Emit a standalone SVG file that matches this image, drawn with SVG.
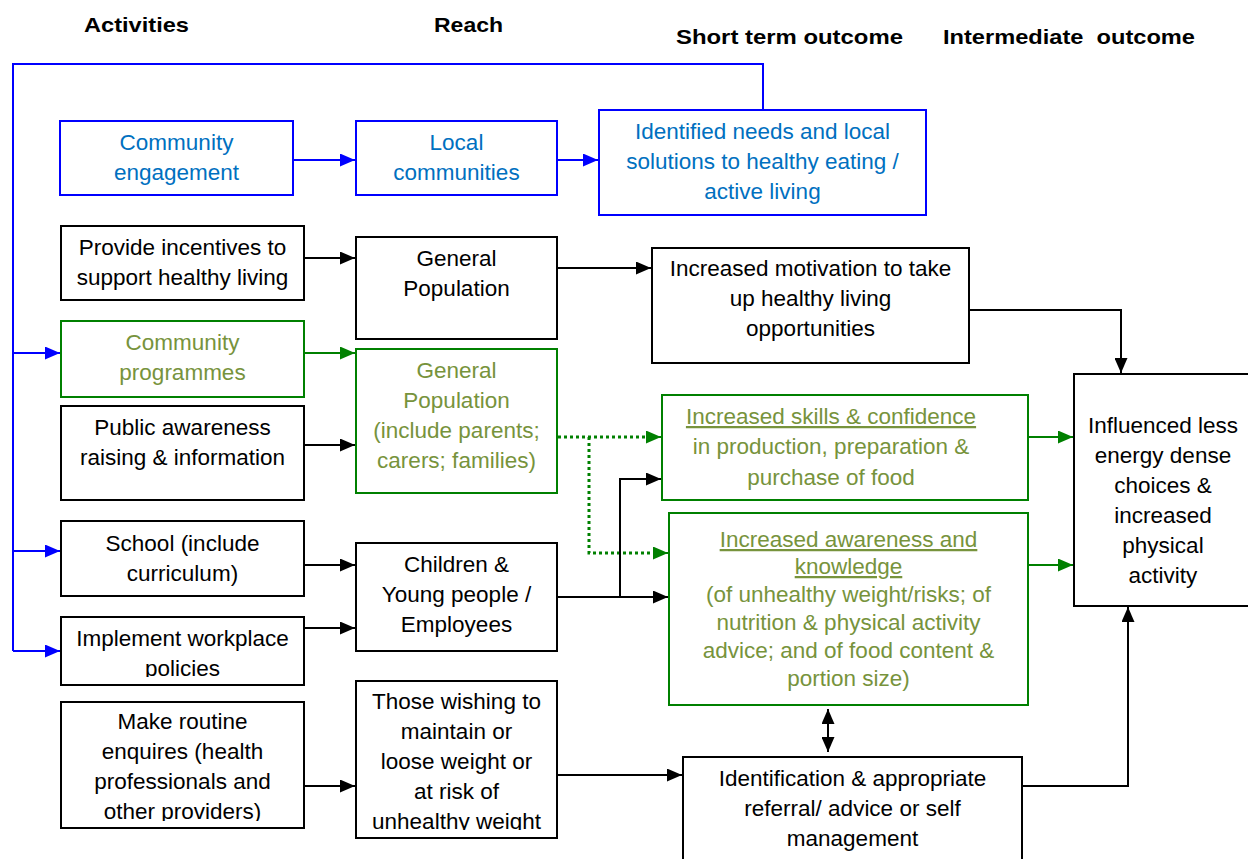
<svg xmlns="http://www.w3.org/2000/svg" width="1248" height="859" viewBox="0 0 1248 859">
<defs>
<style>
text{font-family:"Liberation Sans",Arial,sans-serif;font-size:22.5px;text-anchor:middle;}
.h{font-weight:bold;fill:#000;font-size:21px;}
.k{fill:#000;}
.b{fill:#0070C0;}
.g{fill:#77933C;}
.u{text-decoration:underline;}
.bx{fill:#fff;stroke:#000;stroke-width:2;}
.bb{fill:#fff;stroke:#0000FF;stroke-width:2;}
.gb{fill:#fff;stroke:#008000;stroke-width:2;}
.ck{fill:none;stroke:#000;stroke-width:2;}
.cb{fill:none;stroke:#0000FF;stroke-width:2;}
.cg{fill:none;stroke:#008000;stroke-width:2;}
.cd{fill:none;stroke:#008000;stroke-width:3;stroke-dasharray:3 3;}
</style>
<marker id="ak" viewBox="0 0 15 13" refX="15" refY="6.5" markerWidth="15" markerHeight="13" markerUnits="userSpaceOnUse" orient="auto-start-reverse"><path d="M0,0 L15,6.5 L0,13 z" fill="#000"/></marker>
<marker id="ab" viewBox="0 0 15 13" refX="15" refY="6.5" markerWidth="15" markerHeight="13" markerUnits="userSpaceOnUse" orient="auto"><path d="M0,0 L15,6.5 L0,13 z" fill="#0000FF"/></marker>
<marker id="ag" viewBox="0 0 15 13" refX="15" refY="6.5" markerWidth="15" markerHeight="13" markerUnits="userSpaceOnUse" orient="auto"><path d="M0,0 L15,6.5 L0,13 z" fill="#008000"/></marker>
<clipPath id="cl1"><rect x="61" y="617" width="243" height="60"/></clipPath>
<clipPath id="cl2"><rect x="61" y="702" width="243" height="119"/></clipPath>
<clipPath id="cl3"><rect x="356" y="681" width="201" height="149"/></clipPath>
</defs>
<rect width="1248" height="859" fill="#fff"/>

<g id="headers">
<text class="h" x="136.5" y="32" textLength="105" lengthAdjust="spacingAndGlyphs">Activities</text>
<text class="h" x="468.5" y="32" textLength="69" lengthAdjust="spacingAndGlyphs">Reach</text>
<text class="h" x="789.5" y="44" textLength="227" lengthAdjust="spacingAndGlyphs">Short term outcome</text>
<text class="h" x="1069" y="44" textLength="252" lengthAdjust="spacingAndGlyphs" xml:space="preserve">Intermediate  outcome</text>
</g>

<g id="connectors">
<polyline class="cb" points="763,110 763,64 13,64 13,651"/>
<line class="cb" x1="13" y1="353" x2="60" y2="353" marker-end="url(#ab)"/>
<line class="cb" x1="13" y1="551" x2="60" y2="551" marker-end="url(#ab)"/>
<line class="cb" x1="13" y1="651" x2="60" y2="651" marker-end="url(#ab)"/>
<line class="cb" x1="293" y1="160" x2="355" y2="160" marker-end="url(#ab)"/>
<line class="cb" x1="557" y1="160" x2="598" y2="160" marker-end="url(#ab)"/>
<line class="ck" x1="304" y1="258" x2="355" y2="258" marker-end="url(#ak)"/>
<line class="ck" x1="557" y1="268" x2="651" y2="268" marker-end="url(#ak)"/>
<polyline class="ck" points="969,310 1121,310 1121,373" marker-end="url(#ak)"/>
<line class="cg" x1="304" y1="353" x2="355" y2="353" marker-end="url(#ag)"/>
<line class="ck" x1="304" y1="445" x2="355" y2="445" marker-end="url(#ak)"/>
<line class="cd" x1="558" y1="437" x2="648" y2="437"/>
<line class="cg" x1="647" y1="437" x2="661" y2="437" marker-end="url(#ag)"/>
<polyline class="cd" points="589,437 589,553 655,553"/>
<line class="cg" x1="654" y1="553" x2="668" y2="553" marker-end="url(#ag)"/>
<line class="ck" x1="304" y1="565" x2="355" y2="565" marker-end="url(#ak)"/>
<line class="ck" x1="304" y1="628" x2="355" y2="628" marker-end="url(#ak)"/>
<line class="ck" x1="557" y1="597" x2="668" y2="597" marker-end="url(#ak)"/>
<polyline class="ck" points="620,597 620,479 661,479" marker-end="url(#ak)"/>
<line class="cg" x1="1028" y1="437" x2="1073" y2="437" marker-end="url(#ag)"/>
<line class="cg" x1="1028" y1="565" x2="1073" y2="565" marker-end="url(#ag)"/>
<line class="ck" x1="304" y1="786" x2="355" y2="786" marker-end="url(#ak)"/>
<line class="ck" x1="557" y1="775" x2="682" y2="775" marker-end="url(#ak)"/>
<line class="ck" x1="828" y1="709" x2="828" y2="752" marker-start="url(#ak)" marker-end="url(#ak)"/>
<polyline class="ck" points="1022,786 1128,786 1128,607" marker-end="url(#ak)"/>
</g>

<g id="n-community-engagement">
<rect class="bb" x="60" y="121" width="233" height="74"/>
<text class="b" x="176.5" y="150">Community</text>
<text class="b" x="176.5" y="180">engagement</text>
</g>
<g id="n-local-communities">
<rect class="bb" x="356" y="121" width="201" height="74"/>
<text class="b" x="456.5" y="150">Local</text>
<text class="b" x="456.5" y="180">communities</text>
</g>
<g id="n-identified-needs">
<rect class="bb" x="599" y="110" width="327" height="105"/>
<text class="b" x="762.5" y="139">Identified needs and local</text>
<text class="b" x="762.5" y="169">solutions to healthy eating /</text>
<text class="b" x="762.5" y="199">active living</text>
</g>
<g id="n-provide-incentives">
<rect class="bx" x="61" y="226" width="243" height="74"/>
<text class="k" x="182.5" y="255">Provide incentives to</text>
<text class="k" x="182.5" y="285">support healthy living</text>
</g>
<g id="n-general-population">
<rect class="bx" x="356" y="237" width="201" height="102"/>
<text class="k" x="456.5" y="266">General</text>
<text class="k" x="456.5" y="296">Population</text>
</g>
<g id="n-increased-motivation">
<rect class="bx" x="652" y="248" width="317" height="115"/>
<text class="k" x="810.5" y="276">Increased motivation to take</text>
<text class="k" x="810.5" y="306">up healthy living</text>
<text class="k" x="810.5" y="336">opportunities</text>
</g>
<g id="n-community-programmes">
<rect class="gb" x="61" y="321" width="243" height="76"/>
<text class="g" x="182.5" y="350">Community</text>
<text class="g" x="182.5" y="380">programmes</text>
</g>
<g id="n-general-population-parents">
<rect class="gb" x="356" y="349" width="201" height="144"/>
<text class="g" x="456.5" y="378">General</text>
<text class="g" x="456.5" y="408">Population</text>
<text class="g" x="456.5" y="438">(include parents;</text>
<text class="g" x="456.5" y="468">carers; families)</text>
</g>
<g id="n-public-awareness">
<rect class="bx" x="61" y="406" width="243" height="94"/>
<text class="k" x="182.5" y="435">Public awareness</text>
<text class="k" x="182.5" y="465">raising &amp; information</text>
</g>
<g id="n-increased-skills">
<rect class="gb" x="662" y="395" width="366" height="105"/>
<text class="g u" x="831" y="424">Increased skills &amp; confidence</text>
<text class="g" x="831" y="454">in production, preparation &amp;</text>
<text class="g" x="831" y="485">purchase of food</text>
</g>
<g id="n-increased-awareness">
<rect class="gb" x="669" y="513" width="359" height="192"/>
<text class="g u" x="848.5" y="547">Increased awareness and</text>
<text class="g u" x="848.5" y="574">knowledge</text>
<text class="g" x="848.5" y="602">(of unhealthy weight/risks; of</text>
<text class="g" x="848.5" y="630">nutrition &amp; physical activity</text>
<text class="g" x="848.5" y="658">advice; and of food content &amp;</text>
<text class="g" x="848.5" y="686">portion size)</text>
</g>
<g id="n-influenced">
<rect class="bx" x="1074" y="374" width="180" height="232"/>
<text class="k" x="1163" y="433">Influenced less</text>
<text class="k" x="1163" y="463">energy dense</text>
<text class="k" x="1163" y="493">choices &amp;</text>
<text class="k" x="1163" y="523">increased</text>
<text class="k" x="1163" y="553">physical</text>
<text class="k" x="1163" y="583">activity</text>
</g>
<g id="n-school">
<rect class="bx" x="61" y="521" width="243" height="75"/>
<text class="k" x="182.5" y="551">School (include</text>
<text class="k" x="182.5" y="581">curriculum)</text>
</g>
<g id="n-children">
<rect class="bx" x="356" y="543" width="201" height="108"/>
<text class="k" x="456.5" y="572">Children &amp;</text>
<text class="k" x="456.5" y="602">Young people /</text>
<text class="k" x="456.5" y="632">Employees</text>
</g>
<g id="n-implement-workplace">
<rect class="bx" x="61" y="617" width="243" height="68"/>
<g clip-path="url(#cl1)">
<text class="k" x="182.5" y="646">Implement workplace</text>
<text class="k" x="182.5" y="676">policies</text>
</g>
</g>
<g id="n-make-routine">
<rect class="bx" x="61" y="702" width="243" height="126"/>
<g clip-path="url(#cl2)">
<text class="k" x="182.5" y="729">Make routine</text>
<text class="k" x="182.5" y="759">enquires (health</text>
<text class="k" x="182.5" y="789">professionals and</text>
<text class="k" x="182.5" y="819">other providers)</text>
</g>
</g>
<g id="n-those-wishing">
<rect class="bx" x="356" y="681" width="201" height="157"/>
<g clip-path="url(#cl3)">
<text class="k" x="456.5" y="709">Those wishing to</text>
<text class="k" x="456.5" y="739">maintain or</text>
<text class="k" x="456.5" y="769">loose weight or</text>
<text class="k" x="456.5" y="799">at risk of</text>
<text class="k" x="456.5" y="829">unhealthy weight</text>
</g>
</g>
<g id="n-identification">
<rect class="bx" x="683" y="757" width="339" height="110"/>
<text class="k" x="852.5" y="786">Identification &amp; appropriate</text>
<text class="k" x="852.5" y="816">referral/ advice or self</text>
<text class="k" x="852.5" y="846">management</text>
</g>
</svg>
